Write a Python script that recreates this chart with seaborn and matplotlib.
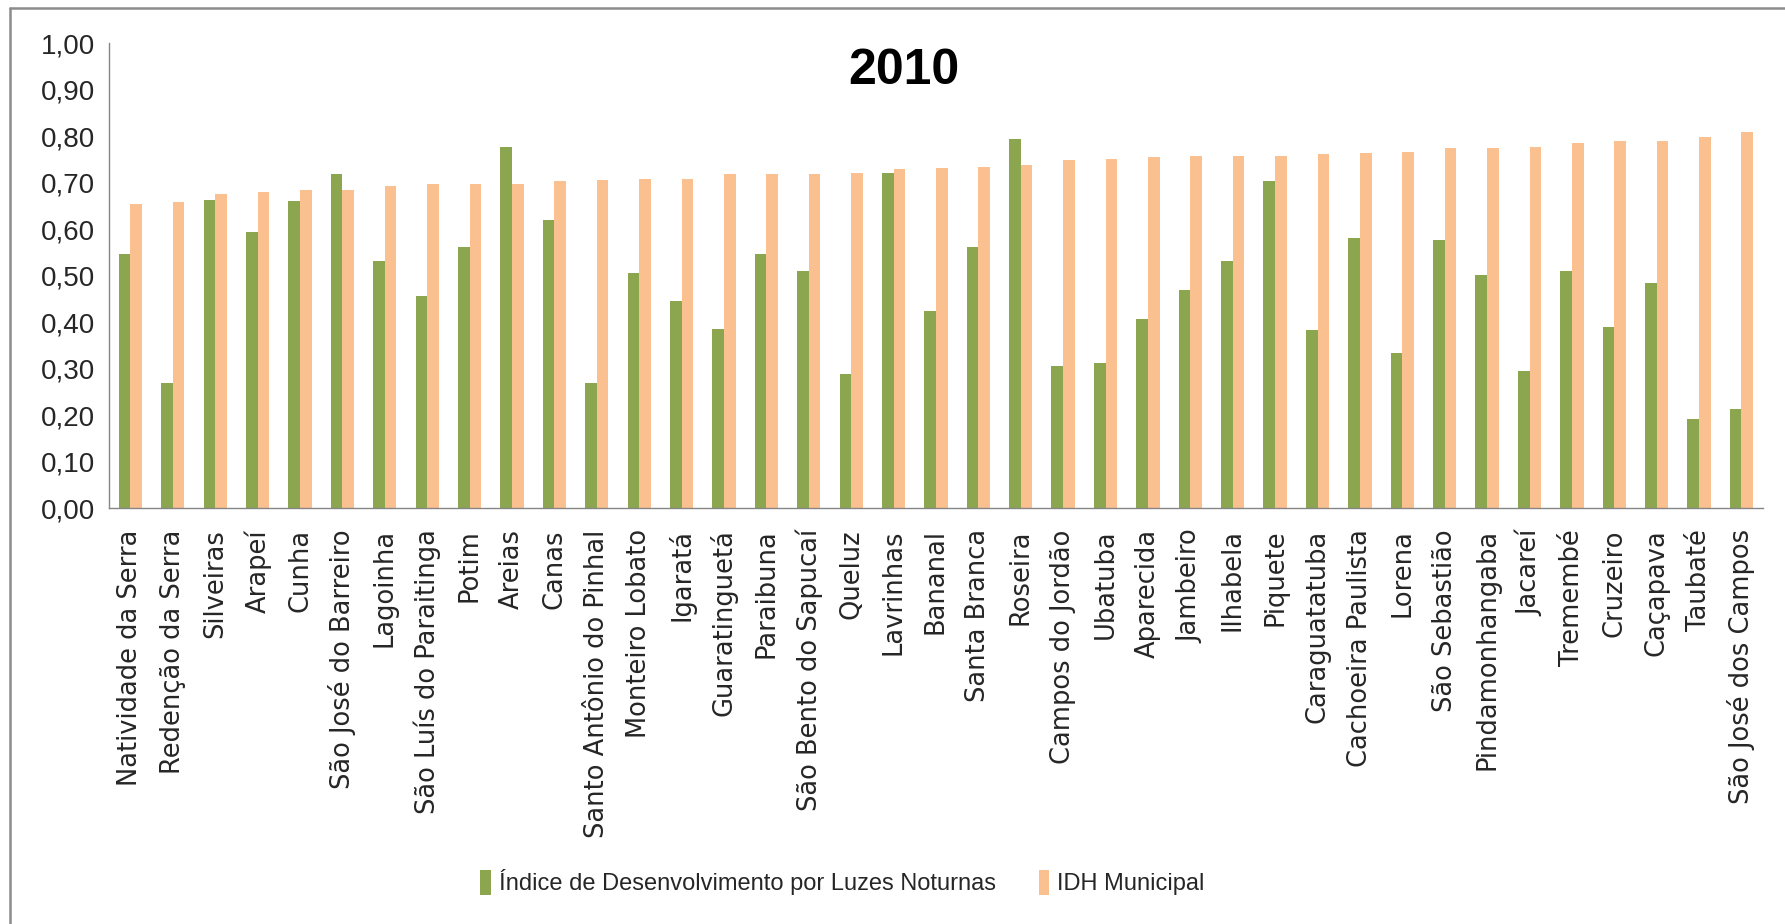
import pandas as pd
import matplotlib
matplotlib.use("Agg")
import matplotlib.pyplot as plt
import matplotlib.lines as mlines
import matplotlib.ticker as ticker
import seaborn as sns

# Data
municipios = [
    "Natividade da Serra", "Redenção da Serra", "Silveiras", "Arapeí", "Cunha",
    "São José do Barreiro", "Lagoinha", "São Luís do Paraitinga", "Potim", "Areias",
    "Canas", "Santo Antônio do Pinhal", "Monteiro Lobato", "Igaratá", "Guaratinguetá",
    "Paraibuna", "São Bento do Sapucaí", "Queluz", "Lavrinhas", "Bananal",
    "Santa Branca", "Roseira", "Campos do Jordão", "Ubatuba", "Aparecida",
    "Jambeiro", "Ilhabela", "Piquete", "Caraguatatuba", "Cachoeira Paulista",
    "Lorena", "São Sebastião", "Pindamonhangaba", "Jacareí", "Tremembé",
    "Cruzeiro", "Caçapava", "Taubaté", "São José dos Campos",
]
luzes = [
    0.546, 0.270, 0.664, 0.594, 0.661, 0.719, 0.533, 0.456, 0.562, 0.776,
    0.620, 0.270, 0.507, 0.446, 0.386, 0.547, 0.511, 0.290, 0.722, 0.424,
    0.562, 0.794, 0.306, 0.312, 0.408, 0.469, 0.531, 0.703, 0.383, 0.581,
    0.335, 0.578, 0.501, 0.296, 0.511, 0.390, 0.485, 0.193, 0.213,
]
idh = [
    0.655, 0.658, 0.677, 0.680, 0.684, 0.684, 0.694, 0.697, 0.697, 0.697,
    0.703, 0.706, 0.709, 0.709, 0.719, 0.719, 0.719, 0.722, 0.729, 0.732,
    0.735, 0.738, 0.749, 0.751, 0.755, 0.757, 0.757, 0.757, 0.761, 0.764,
    0.767, 0.774, 0.774, 0.777, 0.786, 0.790, 0.790, 0.799, 0.809,
]
serie_luzes = "Índice de Desenvolvimento por Luzes Noturnas"
serie_idh = "IDH Municipal"
y_ticks = [0.0, 0.1, 0.2, 0.3, 0.4, 0.5, 0.6, 0.7, 0.8, 0.9, 1.0]

df = pd.DataFrame({"municipio": municipios, serie_luzes: luzes, serie_idh: idh})
df = df.melt(id_vars="municipio", var_name="serie", value_name="valor")

sns.set_style("white")
plt.rcParams["font.family"] = ["Liberation Sans", "DejaVu Sans"]

fig = plt.figure(figsize=(17.85, 9.24), dpi=100)
ax = fig.add_axes([0.0612, 0.4497, 0.9263, 0.5035])

sns.barplot(
    data=df, x="municipio", y="valor", hue="serie",
    palette=["#8BA64F", "#FAC090"], width=0.55, gap=0,
    saturation=1, linewidth=0, ax=ax, legend=True,
)

ax.set_ylim(0, 1.0)
ax.set_xlim(-0.5, len(municipios) - 0.5)
ax.set_yticks(y_ticks)
ax.yaxis.set_major_formatter(ticker.FuncFormatter(lambda v, p: f"{v:.2f}".replace(".", ",")))
ax.set_xlabel("")
ax.set_ylabel("")

# category separators on the x axis, like the spreadsheet chart
ax.set_xticks([i + 0.5 for i in range(-1, len(municipios))], minor=True)
ax.tick_params(axis="x", which="minor", length=7, color="#868686", width=1.0, direction="out")
ax.tick_params(axis="x", which="major", length=0, pad=15, labelsize=18.5, rotation=90)
ax.tick_params(axis="y", length=6.3, color="#868686", width=1.0, direction="out", labelsize=20, pad=4)
for lbl in ax.get_xticklabels():
    lbl.set_family(["DejaVu Sans"])

for side in ["top", "right"]:
    ax.spines[side].set_visible(False)
for side in ["left", "bottom"]:
    ax.spines[side].set_color("#868686")
    ax.spines[side].set_linewidth(1.0)

fig.text(0.5064, 0.923, "2010", ha="center", va="center",
         fontsize=36, fontweight="bold", color="black")

handles, labels = ax.get_legend_handles_labels()
ax.get_legend().remove()
fig.legend(handles, labels, loc="center", bbox_to_anchor=(0.472, 0.045), ncol=2,
           frameon=False, fontsize=17, handlelength=0.45, handleheight=1.2,
           handletextpad=0.35, columnspacing=1.8)

# chart area border (only the left and top edges show in the original crop)
fig.add_artist(mlines.Line2D([10 / 1785, 10 / 1785], [0, 1 - 8 / 924],
                             transform=fig.transFigure, color="#8C8C8C", linewidth=1.8))
fig.add_artist(mlines.Line2D([10 / 1785, 1], [1 - 8 / 924, 1 - 8 / 924],
                             transform=fig.transFigure, color="#8C8C8C", linewidth=1.8))

fig.savefig("out.png", dpi=100)
